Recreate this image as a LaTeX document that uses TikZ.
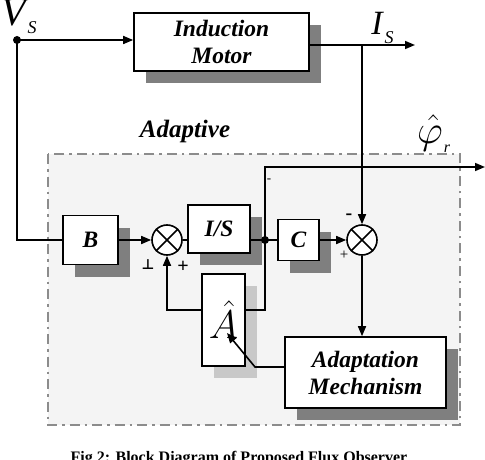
\RequirePackage{fix-cm}
\documentclass[tikz,border=0pt]{standalone}
\usepackage{fontspec}
\setmainfont{Liberation Serif}
\newfontfamily\symfont{DejaVu Sans}
\usetikzlibrary{arrows.meta,shadows}
\definecolor{shd}{HTML}{7F7F7F}
\definecolor{lshd}{HTML}{C8C8C8}
\definecolor{bgfill}{HTML}{F4F4F4}
\definecolor{dashc}{HTML}{8C8C8C}
\begin{document}
\begin{tikzpicture}[x=1pt,y=-1pt,
  ln/.style={line width=1.6pt},
  arr/.style={ln,-{Triangle[length=10pt,width=8pt]}},
  blk/.style={draw, line width=1.6pt, fill=white, inner sep=0pt, align=center,
    font=\bfseries\itshape\fontsize{23.5}{27}\selectfont,
    drop shadow={shadow xshift=12pt, shadow yshift=-12pt, fill=shd, opacity=1}},
  lblk/.style={blk, drop shadow={shadow xshift=12pt, shadow yshift=-12pt, fill=lshd, opacity=1}},
  sumnode/.style={circle, draw, line width=1.6pt, minimum size=30pt, inner sep=0pt, fill=white},
  dotnode/.style={circle, fill=black, minimum size=8pt, inner sep=0pt},
  sign/.style={inner sep=0pt, font=\bfseries\fontsize{20}{20}\selectfont},
  lbl/.style={inner sep=0pt, anchor=base}
]
\useasboundingbox (0,0) rectangle (485,460);
% adaptive region
\draw[dashc, line width=2pt, fill=bgfill, dash pattern=on 10pt off 5pt on 2.5pt off 5pt] (48,154) rectangle (460,425);
\node[lbl, font=\bfseries\itshape\fontsize{25}{25}\selectfont] (adl) at (185,137) {Adaptive};

% blocks
\node[blk, minimum width=175pt, minimum height=58pt] (mot) at (221.5,42) {Induction\\Motor};
\node[blk, minimum width=55pt, minimum height=49pt] (B) at (90.5,240) {B};
\node[blk, minimum width=62pt, minimum height=48pt] (is) at (219,229) {I/S};
\node[blk, minimum width=41pt, minimum height=41pt] (C) at (298.5,240) {C};
\node[blk, minimum width=161pt, minimum height=71pt] (am) at (365.5,372.5) {Adaptation\\Mechanism};
\node[lblk, minimum width=43pt, minimum height=92pt, font=\fontsize{40}{40}\selectfont] (ah) at (223.5,320) {$\hat{A}$};

\node[sumnode] (s1) at (167,240) {};
\node[sumnode] (s2) at (362,240) {};
\draw[ln] (s1.45) -- (s1.225) (s1.135) -- (s1.315);
\draw[ln] (s2.45) -- (s2.225) (s2.135) -- (s2.315);

\node[dotnode] (vs) at (17,40) {};
\node[dotnode] (j) at (265,240) {};

% coordinates
\coordinate (isout) at (415,45);
\coordinate (isj) at (362,45);
\coordinate (phiout) at (485,167);
\coordinate (fb) at (265,310);
\coordinate (amk) at (255,367);
\coordinate (amt) at (227,333);

% connectors
\draw[arr] (vs.center) -- (vs.center -| mot.west);
\draw[ln] (vs.center) |- (B.west);
\draw[arr] (B.east) -- (s1.west);
\draw[ln] (s1.east) -- (s1.east -| is.west);
\draw[ln] (is.east |- j) -- (j.center);
\draw[ln] (j.center) -- (C.west);
\draw[arr] (C.east) -- (s2.west);
\draw[arr] (mot.east |- isout) -- (isout);
\draw[arr] (isj) -- (s2.north);
\draw[arr] (j.center) |- (phiout);
\draw[arr] (s2.south) -- (s2.south |- am.north);
\draw[ln] (j.center) -- (fb) -- (fb -| ah.east);
\draw[arr] (fb -| ah.west) -| (s1.south);
\draw[arr] (am.west |- amk) -- (amk) -- (amt);

% signs
\node[sign, font=\symfont\bfseries\fontsize{14}{14}\selectfont] (m1) at (148,265) {⊥};
\node[sign] (p1) at (183,267) {+};
\node[sign] (m2) at (349,217) {-};
\node[sign, font=\fontsize{15}{15}\selectfont] (p2) at (344,255) {+};
\node[sign, font=\fontsize{13}{13}\selectfont] (m3) at (269,181) {-};

% signal labels
\node[lbl, font=\itshape\fontsize{40}{40}\selectfont] (vl) at (14,26) {V};
\node[lbl, font=\itshape\fontsize{18}{18}\selectfont] (vsub) at (32,34) {S};
\node[lbl, font=\itshape\fontsize{34}{34}\selectfont] (il) at (377,35) {I};
\node[lbl, font=\itshape\fontsize{18}{18}\selectfont] (isub) at (389,44) {S};
\node[lbl, font=\fontsize{40}{40}\selectfont] (phl) at (430,143) {$\hat{\varphi}$};
\node[lbl, font=\itshape\fontsize{16}{16}\selectfont] (phsub) at (447,152) {r};

% caption
\node[lbl, font=\bfseries\fontsize{16}{16}\selectfont] (cap) at (239,462) {Fig 2: Block Diagram of Proposed Flux Observer};
\end{tikzpicture}
\end{document}
